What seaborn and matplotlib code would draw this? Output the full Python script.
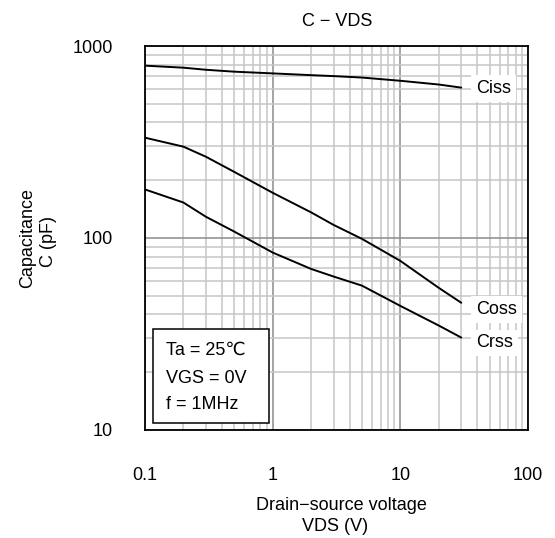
import matplotlib
matplotlib.use("Agg")
import matplotlib.pyplot as plt
import matplotlib.ticker as mticker
from matplotlib.patches import Rectangle
import numpy as np
import pandas as pd
import seaborn as sns

# Drain-source voltage (V)
vds = [0.1, 0.2, 0.3, 0.5, 1, 2, 3, 5, 10, 20, 30]
# Capacitances (pF)
ciss = [790, 771, 752, 735, 720, 705, 697, 685, 659, 630, 607]
coss = [333, 299, 265, 221, 172, 136, 117, 99, 76, 55, 46]
crss = [179, 153, 129, 108, 84, 69, 63, 56.5, 44.3, 35, 30.3]

series_names = ["Ciss", "Coss", "Crss"]
conditions = ["Ta = 25\u2103", "VGS = 0V", "f = 1MHz"]

df = pd.concat([
    pd.DataFrame({"VDS": vds, "C": vals, "series": name})
    for name, vals in zip(series_names, [ciss, coss, crss])
])

sns.set_style("white")
plt.rcParams["font.family"] = ["Liberation Sans", "DejaVu Sans"]
plt.rcParams["text.color"] = "black"
plt.rcParams["xtick.color"] = "black"
plt.rcParams["ytick.color"] = "black"

W, H = 555, 538
FS = 13
fig = plt.figure(figsize=(W / 100, H / 100), dpi=100)
ax = fig.add_axes([145 / W, (H - 430) / H, 383 / W, 384 / H])


def px(x, y):
    """Figure-fraction coordinates from pixel position (top-left origin)."""
    return x / W, 1 - y / H


sns.lineplot(data=df, x="VDS", y="C", hue="series",
             palette=["black"] * 3, linewidth=1.4, legend=False, ax=ax,
             zorder=3)

ax.set_xscale("log")
ax.set_yscale("log")
ax.set_xlim(0.1, 100)
ax.set_ylim(10, 1000)

ax.xaxis.set_major_locator(mticker.FixedLocator([0.1, 1, 10, 100]))
ax.xaxis.set_major_formatter(mticker.FixedFormatter(["0.1", "1", "10", "100"]))
ax.yaxis.set_major_locator(mticker.FixedLocator([10, 100, 1000]))
ax.yaxis.set_major_formatter(mticker.FixedFormatter(["10", "100", "1000"]))
ax.xaxis.set_minor_locator(mticker.LogLocator(base=10, subs=np.arange(2, 10)))
ax.yaxis.set_minor_locator(mticker.LogLocator(base=10, subs=np.arange(2, 10)))
ax.xaxis.set_minor_formatter(mticker.NullFormatter())
ax.yaxis.set_minor_formatter(mticker.NullFormatter())

ax.grid(which="major", color="#8c8c8c", linewidth=1.1, zorder=1)
ax.grid(which="minor", color="#c6c6c6", linewidth=1.1, zorder=1)
ax.set_axisbelow(True)

ax.tick_params(which="both", length=0, colors="black")
ax.tick_params(axis="y", pad=23.3, labelsize=FS)
ax.tick_params(axis="x", pad=27, labelsize=FS)

for sp in ax.spines.values():
    sp.set_color("black")
    sp.set_linewidth(1.3)

ax.set_xlabel("")
ax.set_ylabel("")

# title and axis titles
fig.text(*px(337, 26), "C \u2212 VDS", fontsize=FS, ha="center", va="baseline")
fig.text(*px(341.5, 510), "Drain\u2212source voltage", fontsize=FS,
         ha="center", va="baseline")
fig.text(*px(335, 531), "VDS (V)", fontsize=FS, ha="center", va="baseline")
fig.text(*px(32.5, 237.5), "Capacitance", fontsize=FS, rotation=90,
         rotation_mode="anchor", ha="center", va="baseline")
fig.text(*px(53, 241.5), "C (pF)", fontsize=FS, rotation=90,
         rotation_mode="anchor", ha="center", va="baseline")

# curve labels at the end of each line
label_y = {"Ciss": 567, "Coss": 40.1, "Crss": 26.9}
for name in series_names:
    ax.text(39, label_y[name], name, fontsize=FS, va="baseline", ha="left",
            zorder=4,
            bbox=dict(facecolor="white", edgecolor="none", pad=3.5))

# measurement conditions box
x0, y0 = px(152.5, 422.5)
x1, y1 = px(268.5, 328.5)
fig.add_artist(Rectangle((x0, y0), x1 - x0, y1 - y0, transform=fig.transFigure,
                         facecolor="white", edgecolor="black", linewidth=1.1,
                         zorder=10))
for text, base in zip(conditions, [355, 383.3, 409]):
    fig.text(*px(166, base), text, fontsize=FS, ha="left", va="baseline",
             zorder=11)

fig.savefig("out.png", dpi=100)
